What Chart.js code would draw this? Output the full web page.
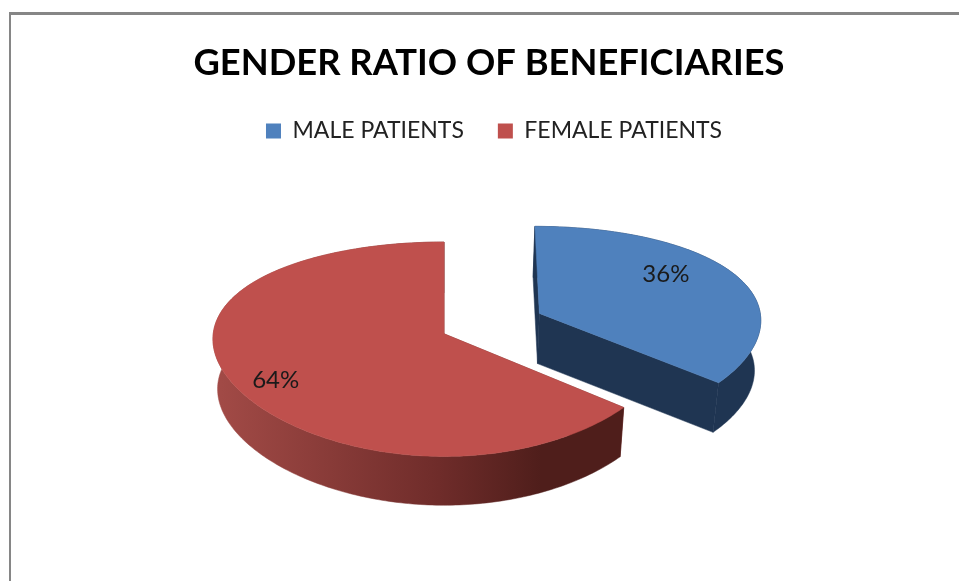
<!DOCTYPE html>
<html>
<head>
<meta charset="utf-8">
<title>Gender ratio of beneficiaries</title>
<script src="https://cdn.jsdelivr.net/npm/chart.js@4"></script>
<style>
    html, body { margin: 0; padding: 0; background: #fff; overflow: hidden; }
    #frame { position: absolute; left: 9px; top: 12px; width: 960px; height: 580px; border-top: 3px solid #868686; border-left: 2px solid #868686; }
    canvas { position: absolute; left: 0; top: 0; }
</style>
</head>
<body>
<div id="frame"></div>
<canvas id="genderChart" width="959" height="581"></canvas>
<script>
// Data
const categories = ['MALE PATIENTS', 'FEMALE PATIENTS'];
const shares = [36, 64];
const sliceColors = ['#4f81bd', '#bf504d'];
const explode = [107, 0];

// 3D look of the pie
const view = { shiftX: -45, squash: 105, depth: 50, backScale: 0.98, tiltY: 0.144, tiltX: 0.05, skewX: 0.012 };
const labelPull = [0.72, 0.83];
const labelNudge = [-0.17, -0.09];

function project(arc, u, v) {
    const X = arc.x + view.shiftX + arc.outerRadius * u / (1 + view.skewX * u - view.tiltX * v);
    const Y = arc.y + view.squash * v / (1 - view.tiltY * v);
    return [X, Y];
}

function lower(arc, p) {
    const cx = arc.x + view.shiftX;
    return [cx + (p[0] - cx) * view.backScale, arc.y + (p[1] - arc.y) * 0.99 + view.depth];
}

function fillPath(ctx, pts, style) {
    ctx.beginPath();
    pts.forEach((p, i) => i ? ctx.lineTo(p[0], p[1]) : ctx.moveTo(p[0], p[1]));
    ctx.closePath();
    ctx.fillStyle = style;
    ctx.strokeStyle = style;
    ctx.lineWidth = 0.5;
    ctx.fill();
    ctx.stroke();
}

const pie3d = {
    id: 'pie3d',
    afterLayout(chart) {
        // legend sits a little right of the title in the picture
        chart.legend.left += 10;
    },
    beforeDatasetDraw(chart, args) {
        const ctx = chart.ctx;
        const arcs = args.meta.data;
        arcs.forEach((arc, i) => {
            const mid = (arc.startAngle + arc.endAngle) / 2;
            const off = arc.options.offset / arc.outerRadius;
            const u0 = Math.cos(mid) * off;
            const v0 = Math.sin(mid) * off;
            const rim = [];
            const steps = Math.ceil((arc.endAngle - arc.startAngle) * 60);
            for (let s = 0; s <= steps; s++) {
                const a = arc.startAngle + (arc.endAngle - arc.startAngle) * s / steps;
                rim.push(project(arc, u0 + Math.cos(a), v0 + Math.sin(a)));
            }
            const apex = project(arc, u0, v0);
            const rimLow = rim.map(p => lower(arc, p));
            const apexLow = lower(arc, apex);

            // outer wall
            let wall = '#1f3552';
            let cut = '#1f3552';
            if (i === 1) {
                const xs = rim.map(p => p[0]);
                const g = ctx.createLinearGradient(Math.min(...xs), 0, Math.max(...xs), 0);
                g.addColorStop(0, '#a34b47');
                g.addColorStop(0.55, '#6f2c2a');
                g.addColorStop(0.8, '#4f1e1b');
                g.addColorStop(1, '#4f1e1b');
                wall = g;
                cut = '#7c3331';
            }
            fillPath(ctx, [apex, rim[0], rimLow[0], apexLow], cut);
            fillPath(ctx, [apex, rim[rim.length - 1], rimLow[rimLow.length - 1], apexLow], cut);
            fillPath(ctx, rim.concat(rimLow.slice().reverse()), wall);
            // top face
            fillPath(ctx, [apex].concat(rim), arc.options.backgroundColor);

            // percent label
            const f = labelPull[i];
            const la = mid + labelNudge[i];
            const p = project(arc, u0 + Math.cos(la) * f, v0 + Math.sin(la) * f);
            ctx.font = '24px Lato';
            ctx.fillStyle = '#1a1a1a';
            ctx.textAlign = 'center';
            ctx.textBaseline = 'middle';
            ctx.fillText(shares[i] + '%', p[0], p[1]);
        });
        return false;
    }
};

new Chart(document.getElementById('genderChart'), {
    type: 'pie',
    plugins: [pie3d],
    data: {
        labels: categories,
        datasets: [{
            data: shares,
            backgroundColor: sliceColors,
            offset: explode,
            radius: 228,
            borderWidth: 0
        }]
    },
    options: {
        responsive: false,
        animation: false,
        layout: { padding: { left: 19, right: 0, top: 42, bottom: 66 } },
        plugins: {
            tooltip: { enabled: false },
            title: {
                display: true,
                text: 'GENDER RATIO OF BENEFICIARIES',
                color: '#000',
                font: { family: 'Lato', size: 36.3, weight: 'bold' },
                padding: { top: 0, bottom: 0 }
            },
            legend: {
                position: 'top',
                labels: {
                    boxWidth: 15,
                    boxHeight: 15,
                    padding: 34,
                    color: '#222',
                    font: { family: 'Lato', size: 23 }
                }
            }
        }
    }
});
</script>
</body>
</html>
